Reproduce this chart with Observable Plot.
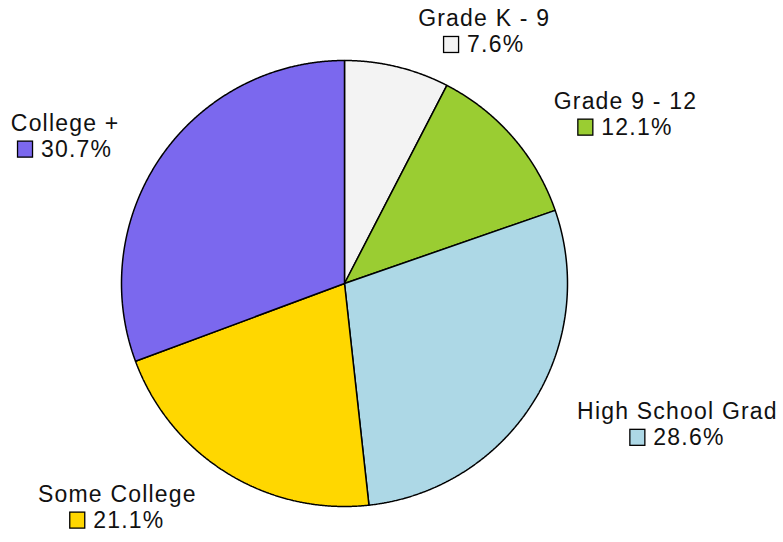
<!DOCTYPE html>
<html><head><meta charset="utf-8">
<script src="https://cdn.jsdelivr.net/npm/d3@7"></script>
<script src="https://cdn.jsdelivr.net/npm/@observablehq/plot@0.6"></script>
<style>html,body{margin:0;padding:0;background:#fff}</style>
</head><body><div id="chart"></div>
<script>
const categories = ["Grade K - 9", "Grade 9 - 12", "High School Grad", "Some College", "College +"];
const shares = [7.6, 12.1, 28.6, 21.1, 30.7];
const pctLabels = ["7.6%", "12.1%", "28.6%", "21.1%", "30.7%"];
const colors = ["#f3f3f3", "#9acd32", "#add8e6", "#ffd700", "#7b68ee"];

const W = 783, H = 542, cx = 344, cy = 283, R = 223;
const FONT = 23, FAMILY = "Liberation Sans", LS = 1.2;
const SQ = 15, GAP = 8, OUT = 12, LR = 1.17;

const rows = categories.map((c, i) => ({cat: c, share: shares[i], pct: pctLabels[i], color: colors[i]}));
const arcs = d3.pie().sort(null).value(d => d.share)(rows);

// polygon points per slice (data units, y up)
const pts = [];
for (const a of arcs) {
  pts.push({cat: a.data.cat, color: a.data.color, x: 0, y: 0});
  const n = Math.max(2, Math.ceil((a.endAngle - a.startAngle) / 0.004));
  for (let k = 0; k <= n; k++) {
    const t = a.startAngle + (a.endAngle - a.startAngle) * k / n;
    pts.push({cat: a.data.cat, color: a.data.color, x: Math.sin(t), y: Math.cos(t)});
  }
}

// text measuring
const ctx = document.createElement("canvas").getContext("2d");
ctx.font = `${FONT}px "${FAMILY}"`;
const mw = s => ctx.measureText(s).width + LS * (s.length - 1);
const X = px => (px - cx) / R, Y = py => (cy - py) / R;

const labels = arcs.map(a => {
  const mid = (a.startAngle + a.endAngle) / 2;
  const s = Math.sin(mid), c = Math.cos(mid);
  const ax = cx + LR * R * s, ay = cy - LR * R * c;
  const w1 = mw(a.data.cat), wp = mw(a.data.pct), w2 = SQ + GAP + wp;
  const bw = Math.max(w1, w2);
  const bx = s > 0 ? ax + OUT + bw / 2 : ax - OUT - bw / 2;
  const b1 = ay - 4, b2 = ay + 22;
  const start = bx - w2 / 2;
  return {
    ...a.data,
    tx: X(bx + LS / 2), ty1: Y(b1), ty2: Y(b2),
    px: X(start + SQ + GAP),
    sx1: X(start), sx2: X(start + SQ), sy1: Y(b2 - 15), sy2: Y(b2 + 1)
  };
});

const chart = Plot.plot({
  width: W, height: H,
  margin: 0,
  x: {domain: [-1, 1], range: [cx - R, cx + R], axis: null},
  y: {domain: [-1, 1], range: [cy + R, cy - R], axis: null},
  color: {type: "identity"},
  style: {background: "#fff", letterSpacing: `${LS}px`},
  marks: [
    Plot.line(pts, {x: "x", y: "y", z: "cat", fill: "color", stroke: "#000", strokeWidth: 1.5, curve: "linear-closed", strokeLinejoin: "miter"}),
    Plot.rect(labels, {x1: "sx1", x2: "sx2", y1: "sy1", y2: "sy2", fill: "color", stroke: "#000", strokeWidth: 1.3}),
    Plot.text(labels, {x: "tx", y: "ty1", text: "cat", textAnchor: "middle", lineAnchor: "bottom", fontSize: FONT, fontFamily: FAMILY, fill: "#111"}),
    Plot.text(labels, {x: "px", y: "ty2", text: "pct", textAnchor: "start", lineAnchor: "bottom", fontSize: FONT, fontFamily: FAMILY, fill: "#111"})
  ]
});
document.getElementById("chart").appendChild(chart);
</script>
</body></html>
